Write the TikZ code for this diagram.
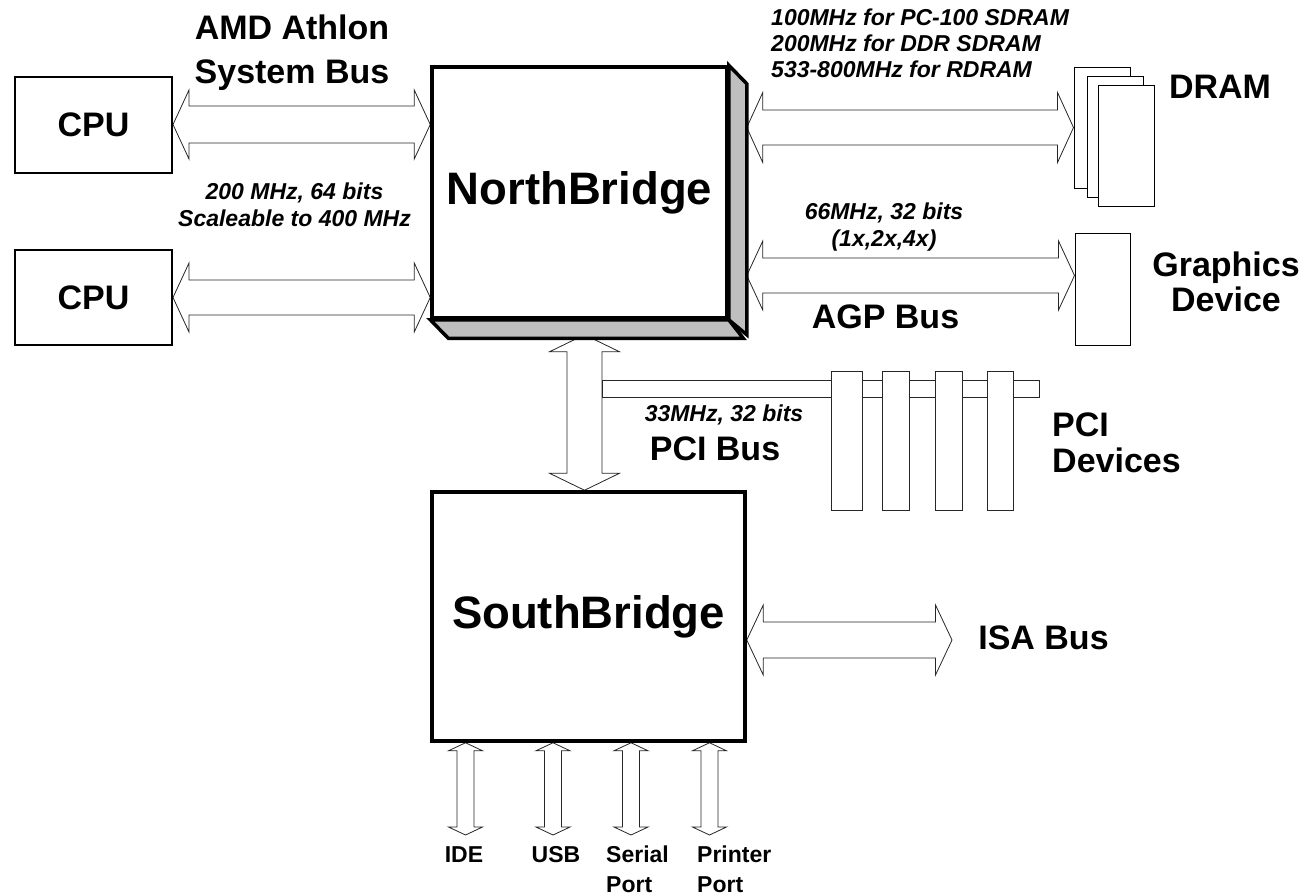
\documentclass[tikz,border=0pt]{standalone}
\usepackage{fontspec}
\setmainfont{Liberation Sans}
\usetikzlibrary{calc}
\newcommand\hbus[5]{%
\draw[bus] (#1) -- ($(#1)+(#5,-#4)$) -- ($(#1)+(#5,-#3)$) -- ($(#2)+(-#5,-#3)$) -- ($(#2)+(-#5,-#4)$) -- (#2) -- ($(#2)+(-#5,#4)$) -- ($(#2)+(-#5,#3)$) -- ($(#1)+(#5,#3)$) -- ($(#1)+(#5,#4)$) -- cycle;}
\newcommand\vbus[5]{%
\draw[bus] (#1) -- ($(#1)+(#4,#5)$) -- ($(#1)+(#3,#5)$) -- ($(#2)+(#3,-#5)$) -- ($(#2)+(#4,-#5)$) -- (#2) -- ($(#2)+(-#4,-#5)$) -- ($(#2)+(-#3,-#5)$) -- ($(#1)+(-#3,#5)$) -- ($(#1)+(-#4,#5)$) -- cycle;}
\tikzset{
  x=1pt, y=-1pt,
  box/.style={draw, line width=2pt, fill=white, inner sep=0pt},
  chip/.style={draw, line width=3.5pt, fill=white, inner sep=0pt, line join=miter,
    font=\fontsize{45.5}{50}\selectfont\bfseries},
  face/.style={draw, line width=3.5pt, fill=black!25, line join=miter},
  thinbox/.style={draw, line width=1pt, fill=white, inner sep=0pt},
  bus/.style={draw=black!85, line width=0.8pt, fill=white, line join=miter},
  big/.style={font=\fontsize{34}{44}\selectfont\bfseries, inner sep=0pt},
  spec/.style={font=\fontsize{23}{27.4}\selectfont\bfseries\itshape, inner sep=0pt},
  small/.style={font=\fontsize{23}{30}\selectfont\bfseries, inner sep=0pt},
}
\begin{document}
\begin{tikzpicture}
\useasboundingbox (0,0) rectangle (1308,895);
% node placements (drawn later) -- define coordinates first
\path node[box, minimum width=157pt, minimum height=96pt, draw=none, fill=none] (cpu1) at (93.5,124.5) {}
      node[box, minimum width=157pt, minimum height=95pt, draw=none, fill=none] (cpu2) at (93.5,297.5) {}
      node[chip, minimum width=295pt, minimum height=251pt, draw=none, fill=none] (nbp) at (579.5,192.5) {}
      node[chip, minimum width=313pt, minimum height=249pt, draw=none, fill=none] (sbp) at (588.5,616.5) {}
      node[thinbox, minimum width=56pt, minimum height=121pt, draw=none, fill=none] (dram1) at (1102,127.5) {}
      node[thinbox, minimum width=55pt, minimum height=112pt, draw=none, fill=none] (gfxp) at (1102.5,289) {};
\coordinate (nbR) at ($(nbp.east)+(18,0)$);
\coordinate (agpy) at (0,275.5);
\coordinate (pcix) at (584.5,0);
\coordinate (isaend) at (952,640);
\coordinate (ide) at (465.5,835);
\coordinate (usb) at (553,835);
\coordinate (ser) at (631,835);
\coordinate (prn) at (709.5,835);
\coordinate (nbtip) at ($(pcix |- nbp.south)+(0,15)$);
\coordinate (sbtip) at (pcix |- sbp.north);
% buses
\hbus{cpu1.east}{nbp.west |- cpu1.east}{18.5}{34.5}{16}
\hbus{cpu2.east}{nbp.west |- cpu2.east}{17.5}{34.5}{16}
\hbus{nbR |- dram1.west}{dram1.west}{17.5}{35}{16}
\hbus{nbR |- agpy}{gfxp.west |- agpy}{17.5}{34.5}{16}
\vbus{nbtip}{sbtip}{17.5}{35}{17}
\hbus{sbp.east |- isaend}{isaend}{18}{35}{16.5}
\vbus{sbp.south -| ide}{ide}{8.5}{17}{8}
\vbus{sbp.south -| usb}{usb}{8.5}{17}{8}
\vbus{sbp.south -| ser}{ser}{8.5}{17}{8}
\vbus{sbp.south -| prn}{prn}{8.5}{17}{8}
% PCI bus bar and slots
\node[draw=black!85, line width=0.8pt, inner sep=0pt, minimum width=437pt, minimum height=17pt] (pcibar) at (820.5,388.5) {};
\node[thinbox, line width=0.8pt, draw=black!85, minimum width=31pt, minimum height=139pt] (slot1) at (846.5,440.5) {};
\node[thinbox, line width=0.8pt, draw=black!85, minimum width=27pt, minimum height=139pt] (slot2) at (895.5,440.5) {};
\node[thinbox, line width=0.8pt, draw=black!85, minimum width=27pt, minimum height=139pt] (slot3) at (948.5,440.5) {};
\node[thinbox, line width=0.8pt, draw=black!85, minimum width=26pt, minimum height=139pt] (slot4) at (1000,440.5) {};
% CPUs
\node[box, big, minimum width=157pt, minimum height=96pt] (c1) at (cpu1) {CPU};
\node[box, big, minimum width=157pt, minimum height=95pt] (c2) at (cpu2) {CPU};
% NorthBridge with 3D faces
\draw[face] (nbp.north east) -- ++(18,18.5) -- ++(0,251) -- (nbp.south east) -- cycle;
\draw[face] (nbp.south west) -- ++(18,18.5) -- ++(295,0) -- (nbp.south east) -- cycle;
\node[chip, minimum width=295pt, minimum height=251pt] (nb) at (nbp) {NorthBridge};
\node[chip, minimum width=313pt, minimum height=249pt] (sb) at (sbp) {SouthBridge};
% DRAM stack and graphics
\node[thinbox, minimum width=56pt, minimum height=121pt] (d1) at (dram1) {};
\node[thinbox, minimum width=56pt, minimum height=121pt] (d2) at (1115,136.5) {};
\node[thinbox, minimum width=56pt, minimum height=121pt] (d3) at (1126,145.5) {};
\node[thinbox, minimum width=55pt, minimum height=112pt] (gfx) at (gfxp) {};
% labels
\node[big, align=center] (amd) at (292,52.5) {AMD Athlon\\System Bus};
\node[spec, align=center] (sysspec) at (294.5,204.6) {200 MHz, 64 bits\\Scaleable to 400 MHz};
\node[spec, align=left, anchor=west, font=\fontsize{23}{26}\selectfont\bfseries\itshape] (dramspec) at (771,43.6) {100MHz for PC-100 SDRAM\\200MHz for DDR SDRAM\\533-800MHz for RDRAM};
\node[big] (dramlbl) at (1220,86.5) {DRAM};
\node[spec, align=center, font=\fontsize{23}{27}\selectfont\bfseries\itshape] (agpspec) at (884,226.8) {66MHz, 32 bits\\(1x,2x,4x)};
\node[big] (agplbl) at (885.5,317) {AGP Bus};
\node[big, align=center, font=\fontsize{34}{35}\selectfont\bfseries] (gfxlbl) at (1226,282) {Graphics\\Device};
\node[spec] (pcispec) at (724,415) {33MHz, 32 bits};
\node[big] (pcilbl) at (715,448.5) {PCI Bus};
\node[big, align=left, anchor=west, font=\fontsize{34}{36.3}\selectfont\bfseries] (pcidev) at (1052,442.7) {PCI\\Devices};
\node[big] (isalbl) at (1043.5,638) {ISA Bus};
\node[small] (idelbl) at (464,854.7) {IDE};
\node[small] (usblbl) at (556,854.7) {USB};
\node[small, align=left, anchor=west] (serlbl) at (606,869.5) {Serial\\Port};
\node[small, align=left, anchor=west] (prnlbl) at (697,869.5) {Printer\\Port};
\end{tikzpicture}
\end{document}
